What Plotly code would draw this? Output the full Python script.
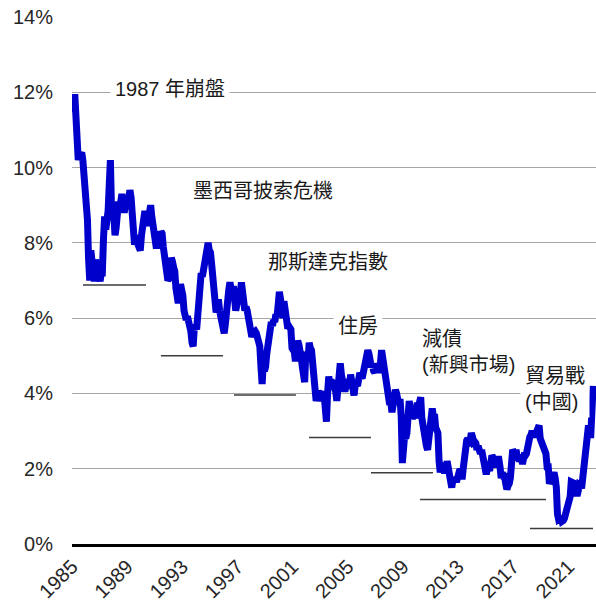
import pandas as pd
import plotly.graph_objects as go

# Monthly 10-year yield (%), Jan 1985 .. Oct 2022
yields = [
    # 1985
    11.6, 11.5, 11.95, 11.4, 10.85, 10.2, 10.35, 10.35, 10.4, 10.2, 9.75, 9.3,
    # 1986
    9.2, 8.6, 7.6, 7.0, 7.8, 7.5, 7.2, 6.98, 7.55, 7.4, 7.25, 7.1,
    # 1987
    6.98, 7.2, 7.2, 8.1, 8.7, 8.35, 8.5, 8.85, 9.55, 10.2, 8.8, 9.0,
    # 1988
    8.7, 8.2, 8.4, 8.75, 9.1, 8.9, 9.1, 9.3, 9.0, 8.8, 9.0, 9.15,
    # 1989
    9.1, 9.2, 9.4, 9.2, 8.85, 8.25, 7.95, 8.15, 8.2, 7.95, 7.85, 7.8,
    # 1990
    8.2, 8.5, 8.6, 8.85, 8.7, 8.45, 8.45, 8.8, 9.0, 8.7, 8.4, 8.05,
    # 1991
    8.05, 7.85, 8.1, 8.0, 8.1, 8.3, 8.25, 7.9, 7.6, 7.5, 7.4, 7.0,
    # 1992
    7.05, 7.35, 7.6, 7.5, 7.35, 7.25, 6.8, 6.55, 6.4, 6.65, 6.9, 6.75,
    # 1993
    6.6, 6.2, 6.0, 5.95, 6.05, 5.95, 5.8, 5.65, 5.35, 5.25, 5.75, 5.8,
    # 1994
    5.7, 6.0, 6.5, 7.0, 7.2, 7.1, 7.3, 7.2, 7.5, 7.75, 8.0, 7.8,
    # 1995
    7.75, 7.45, 7.2, 7.05, 6.6, 6.15, 6.3, 6.5, 6.2, 6.05, 5.9, 5.65,
    # 1996
    5.6, 5.85, 6.3, 6.55, 6.75, 6.95, 6.85, 6.6, 6.85, 6.5, 6.2, 6.35,
    # 1997
    6.6, 6.4, 6.75, 6.95, 6.7, 6.5, 6.2, 6.3, 6.2, 6.0, 5.85, 5.75,
    # 1998
    5.5, 5.6, 5.65, 5.65, 5.6, 5.45, 5.45, 5.25, 4.7, 4.25, 4.8, 4.6,
    # 1999
    4.7, 5.05, 5.25, 5.2, 5.6, 5.9, 5.8, 5.95, 5.9, 6.1, 6.05, 6.35,
    # 2000
    6.7, 6.5, 6.25, 6.0, 6.45, 6.05, 6.05, 5.8, 5.8, 5.75, 5.7, 5.2,
    # 2001
    5.15, 5.1, 4.85, 5.2, 5.4, 5.3, 5.2, 4.95, 4.7, 4.5, 4.3, 5.1,
    # 2002
    5.05, 4.9, 5.35, 5.2, 5.15, 4.9, 4.6, 4.2, 3.8, 3.95, 4.05, 4.0,
    # 2003
    4.05, 3.9, 3.8, 3.95, 3.55, 3.25, 4.0, 4.45, 4.25, 4.3, 4.3, 4.25,
    # 2004
    4.15, 4.05, 3.8, 4.4, 4.75, 4.8, 4.5, 4.25, 4.1, 4.05, 4.2, 4.25,
    # 2005
    4.2, 4.15, 4.5, 4.3, 4.1, 3.95, 4.2, 4.25, 4.2, 4.5, 4.55, 4.45,
    # 2006
    4.4, 4.55, 4.75, 5.0, 5.1, 5.15, 5.05, 4.85, 4.7, 4.75, 4.6, 4.55,
    # 2007
    4.8, 4.7, 4.55, 4.7, 4.8, 5.15, 4.95, 4.6, 4.5, 4.5, 4.1, 4.05,
    # 2008
    3.7, 3.75, 3.5, 3.7, 3.95, 4.1, 4.0, 3.85, 3.7, 3.85, 3.4, 2.15,
    # 2009
    2.5, 2.9, 2.8, 2.95, 3.35, 3.8, 3.55, 3.6, 3.35, 3.4, 3.35, 3.6,
    # 2010
    3.75, 3.65, 3.8, 3.9, 3.35, 3.1, 2.95, 2.6, 2.6, 2.5, 2.8, 3.3,
    # 2011
    3.4, 3.6, 3.4, 3.45, 3.1, 2.95, 2.95, 2.2, 1.9, 2.15, 2.0, 1.95,
    # 2012
    1.95, 1.95, 2.2, 2.0, 1.75, 1.6, 1.5, 1.7, 1.7, 1.75, 1.65, 1.75,
    # 2013
    1.9, 1.98, 1.95, 1.72, 2.0, 2.35, 2.6, 2.75, 2.8, 2.6, 2.75, 2.95,
    # 2014
    2.85, 2.7, 2.72, 2.68, 2.5, 2.6, 2.52, 2.4, 2.5, 2.3, 2.3, 2.2,
    # 2015
    1.85, 2.0, 2.0, 1.95, 2.2, 2.35, 2.3, 2.2, 2.15, 2.05, 2.25, 2.25,
    # 2016
    2.05, 1.75, 1.9, 1.8, 1.8, 1.6, 1.45, 1.55, 1.6, 1.75, 2.15, 2.5,
    # 2017
    2.45, 2.42, 2.5, 2.3, 2.3, 2.2, 2.3, 2.2, 2.2, 2.35, 2.35, 2.4,
    # 2018
    2.6, 2.85, 2.85, 2.9, 3.0, 2.9, 2.9, 2.9, 3.0, 3.15, 3.15, 2.8,
    # 2019
    2.7, 2.68, 2.55, 2.52, 2.4, 2.05, 2.05, 1.6, 1.7, 1.75, 1.8, 1.9,
    # 2020
    1.75, 1.5, 0.8, 0.65, 0.67, 0.72, 0.6, 0.62, 0.68, 0.8, 0.87, 0.93,
    # 2021
    1.08, 1.26, 1.65, 1.63, 1.62, 1.5, 1.3, 1.28, 1.4, 1.58, 1.56, 1.48,
    # 2022
    1.78, 1.95, 2.2, 2.8, 2.9, 3.15, 2.9, 2.9, 3.55, 4.2,
]
dates = pd.date_range("1985-01-01", periods=len(yields), freq="MS") + pd.Timedelta(days=14)

# Support levels drawn as short horizontal rules
level_start = ["1985-10-19", "1991-06-15", "1996-10-01", "2002-03-10",
               "2006-09-06", "2010-03-29", "2014-10-19", "2018-03-18"]
level_end = ["1990-05-15", "1995-12-13", "2001-03-28", "2006-09-06",
             "2011-03-06", "2014-10-19", "2019-05-16", "2022-10-12"]
level_value = [6.88, 5.0, 3.96, 2.83, 1.89, 1.18, 1.18, 0.41]

# Event labels
event_text = ["1987 年崩盤", "墨西哥披索危機", "那斯達克指數", "住房",
              "減債<br>(新興市場)", "貿易戰<br>(中國)"]
event_x = ["1987-10-05", "1993-05-28", "1998-11-06", "2003-12-05",
           "2010-01-08", "2017-06-28"]
event_y = [12.09, 9.38, 7.49, 5.79, 5.10, 4.12]

tick_years = list(range(1985, 2022, 4))
y_ticks = [0, 2, 4, 6, 8, 10, 12, 14]

FONT = "Liberation Sans, Arial, Noto Sans CJK TC, sans-serif"

fig = go.Figure()
fig.add_trace(go.Scatter(
    x=dates, y=yields, mode="lines",
    line=dict(color="#0000cc", width=7),
    hoverinfo="skip",
))
for s, e, v in zip(level_start, level_end, level_value):
    fig.add_trace(go.Scatter(
        x=[s, e], y=[v, v], mode="lines",
        line=dict(color="#3c3c3c", width=1.5),
        hoverinfo="skip",
    ))

for t, x, y in zip(event_text, event_x, event_y):
    fig.add_annotation(
        x=x, y=y, xref="x", yref="y", text=t, showarrow=False,
        xanchor="left", yanchor="middle", align="left",
        bgcolor="white", borderpad=4,
        font=dict(family=FONT, size=20, color="#1a1a1a"),
    )

fig.update_layout(
    width=596, height=602,
    margin=dict(l=72, r=0, t=17, b=58),
    paper_bgcolor="white", plot_bgcolor="white",
    showlegend=False,
    font=dict(family=FONT, size=20, color="#262626"),
)
fig.update_xaxes(
    type="date",
    range=["1985-01-01", "2022-12-31"],
    tickmode="array",
    tickvals=[f"{yr}-01-01" for yr in tick_years],
    ticktext=[str(yr) for yr in tick_years],
    tickangle=-45,
    showgrid=False, zeroline=False,
    showline=True, linecolor="black", linewidth=3,
    ticks="", ticklabelstandoff=0,
    automargin=False,
)
fig.update_yaxes(
    range=[0, 14],
    tickmode="array",
    tickvals=y_ticks,
    ticktext=[f"{v}%" for v in y_ticks],
    showgrid=True, gridcolor="#a6a6a6", gridwidth=1,
    zeroline=False, showline=False,
    ticks="", ticklabelstandoff=18,
    automargin=False,
)

fig.write_html("out.html")
